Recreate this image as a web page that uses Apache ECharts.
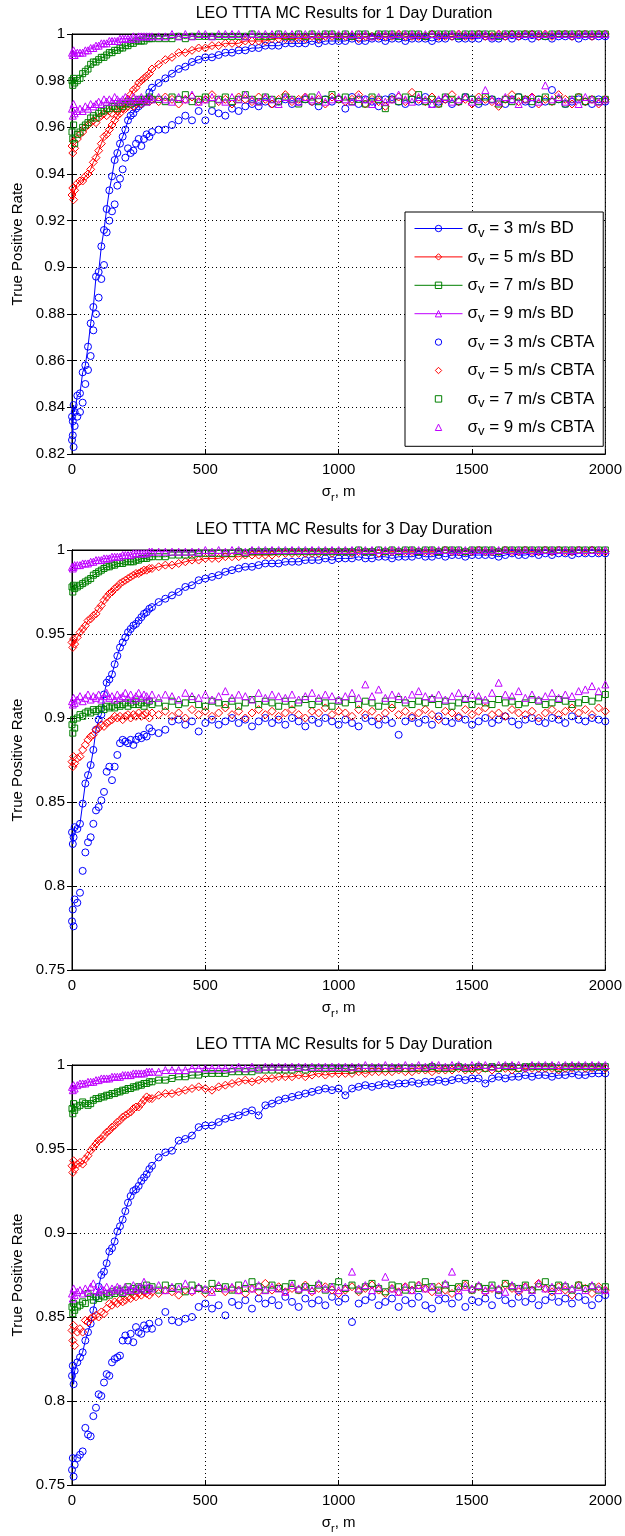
<!DOCTYPE html>
<html>
<head>
<meta charset="utf-8">
<title>LEO TTTA MC Results</title>
<script src="https://cdn.jsdelivr.net/npm/echarts@6/dist/echarts.min.js"></script>
<style>
  html, body { margin: 0; padding: 0; background: #fff; }
  #chart { width: 625px; height: 1536px; }
</style>
</head>
<body>
<div id="chart"></div>
<script>
// sigma_r sample points (m)
const xs = [0, 3, 6, 10, 20, 30, 40, 50, 60, 70, 80, 90, 100, 110, 120, 130, 140,
  150, 160, 170, 180, 190, 200, 210, 220, 230, 240, 250, 260, 270, 280, 290, 300,
  325, 350, 375, 400, 425, 450, 475, 500, 525, 550,
  575, 600, 625, 650, 675, 700, 725, 750, 775, 800,
  825, 850, 875, 900, 925, 950, 975, 1000,
  1025, 1050, 1075, 1100, 1125, 1150, 1175, 1200, 1225, 1250,
  1275, 1300, 1325, 1350, 1375, 1400, 1425, 1450, 1475, 1500,
  1525, 1550, 1575, 1600, 1625, 1650, 1675, 1700, 1725, 1750,
  1775, 1800, 1825, 1850, 1875, 1900, 1925, 1950, 1975, 2000];

const speeds = [3, 5, 7, 9];
const titles = ['LEO TTTA MC Results for 1 Day Duration',
  'LEO TTTA MC Results for 3 Day Duration',
  'LEO TTTA MC Results for 5 Day Duration'];
const yMins = [0.82, 0.75, 0.75];
const yIntervals = [0.02, 0.05, 0.05];

// ---- 1 day ----
const d1Bd3 = [0.836, 0.828, 0.841, 0.838, 0.845, 0.846, 0.855, 0.858, 0.866, 0.876, 0.883, 0.896, 0.898, 0.909, 0.916, 0.925, 0.933,
  0.939, 0.946, 0.949, 0.953, 0.956, 0.959, 0.963, 0.965, 0.966, 0.968, 0.969, 0.970, 0.971, 0.972, 0.975, 0.977,
  0.979, 0.981, 0.983, 0.985, 0.986, 0.988, 0.989, 0.990, 0.990, 0.991,
  0.992, 0.992, 0.993, 0.993, 0.994, 0.994, 0.995, 0.995, 0.995, 0.996,
  0.996, 0.996, 0.996, 0.997, 0.996, 0.997, 0.997, 0.997,
  0.997, 0.998, 0.997, 0.997, 0.998, 0.998, 0.997, 0.998, 0.998, 0.997,
  0.998, 0.998, 0.998, 0.997, 0.998, 0.998, 0.999, 0.998, 0.998, 0.998,
  0.998, 0.999, 0.998, 0.998, 0.999, 0.998, 0.999, 0.999, 0.998, 0.999,
  0.999, 0.998, 0.999, 0.999, 0.999, 0.998, 0.999, 0.999, 0.999, 0.999];
const d1Bd5 = [0.931, 0.934, 0.929, 0.933, 0.936, 0.937, 0.937, 0.939, 0.940, 0.942, 0.945, 0.947, 0.950, 0.953, 0.956, 0.957, 0.959,
  0.961, 0.963, 0.965, 0.966, 0.968, 0.970, 0.972, 0.974, 0.976, 0.977, 0.979, 0.980, 0.981, 0.982, 0.983, 0.985,
  0.987, 0.989, 0.990, 0.992, 0.992, 0.993, 0.994, 0.994, 0.995, 0.995,
  0.996, 0.996, 0.996, 0.997, 0.997, 0.997, 0.997, 0.998, 0.998, 0.998,
  0.998, 0.998, 0.998, 0.999, 0.998, 0.999, 0.999, 0.999,
  0.999, 0.999, 0.998, 0.999, 0.999, 0.999, 0.999, 0.999, 1, 0.999,
  0.999, 0.999, 0.999, 1, 0.999, 0.999, 0.999, 1, 0.999, 0.999,
  1, 0.999, 0.999, 1, 0.999, 1, 0.999, 1, 1, 0.999,
  1, 0.999, 1, 1, 0.999, 1, 1, 0.999, 1, 1];
const d1Bd7 = [0.980, 0.978, 0.981, 0.979, 0.980, 0.981, 0.983, 0.984, 0.985, 0.987, 0.988, 0.988, 0.989, 0.990, 0.990, 0.991, 0.992,
  0.992, 0.993, 0.993, 0.994, 0.994, 0.995, 0.995, 0.996, 0.996, 0.997, 0.997, 0.997, 0.997, 0.998, 0.998, 0.998,
  0.998, 0.998, 0.998, 0.999, 0.998, 0.999, 0.999, 0.999, 0.999, 0.999,
  0.999, 0.999, 0.999, 0.999, 1, 0.999, 0.999, 0.999, 1, 0.999,
  0.999, 1, 0.999, 1, 0.999, 1, 1, 0.999,
  1, 0.999, 1, 1, 0.999, 1, 1, 1, 0.999, 1,
  1, 1, 0.999, 1, 1, 1, 1, 0.999, 1, 1,
  1, 1, 1, 0.999, 1, 1, 1, 1, 1, 1,
  0.999, 1, 1, 1, 1, 1, 1, 1, 1, 1];
const d1Bd9 = [0.992, 0.991, 0.993, 0.991, 0.992, 0.992, 0.992, 0.993, 0.993, 0.994, 0.994, 0.995, 0.995, 0.996, 0.996, 0.996, 0.997,
  0.997, 0.997, 0.997, 0.998, 0.998, 0.998, 0.998, 0.998, 0.999, 0.998, 0.999, 0.999, 0.999, 0.999, 0.999, 0.999,
  0.999, 0.999, 1, 0.999, 1, 0.999, 1, 1, 0.999, 1,
  1, 1, 1, 0.999, 1, 1, 1, 1, 1, 1,
  1, 1, 1, 1, 1, 1, 1, 1,
  1, 1, 1, 1, 0.999, 1, 1, 1, 1, 1,
  1, 1, 1, 1, 1, 1, 1, 1, 1, 1,
  1, 1, 0.999, 1, 1, 1, 1, 1, 1, 1,
  1, 1, 1, 1, 1, 1, 1, 1, 1, 1];
const d1Cb3 = [0.826, 0.834, 0.823, 0.832, 0.836, 0.838, 0.842, 0.850, 0.856, 0.862, 0.873, 0.880, 0.887, 0.895, 0.901, 0.915, 0.920,
  0.924, 0.927, 0.935, 0.938, 0.942, 0.947, 0.951, 0.949, 0.950, 0.953, 0.955, 0.952, 0.955, 0.957, 0.956, 0.958,
  0.959, 0.959, 0.961, 0.963, 0.965, 0.963, 0.967, 0.963, 0.967, 0.966,
  0.965, 0.968, 0.967, 0.969, 0.970, 0.969, 0.971, 0.970, 0.971, 0.972,
  0.970, 0.971, 0.972, 0.971, 0.969, 0.972, 0.971, 0.972,
  0.968, 0.973, 0.970, 0.972, 0.971, 0.969, 0.972, 0.973, 0.971, 0.970,
  0.972, 0.971, 0.973, 0.970, 0.971, 0.972, 0.970, 0.971, 0.973, 0.972,
  0.970, 0.971, 0.972, 0.971, 0.970, 0.972, 0.973, 0.971, 0.970, 0.972,
  0.971, 0.976, 0.972, 0.970, 0.971, 0.972, 0.971, 0.970, 0.972, 0.971];
const d1Cb5 = [0.952, 0.949, 0.954, 0.951, 0.955, 0.957, 0.958, 0.960, 0.961, 0.962, 0.963, 0.962, 0.964, 0.965, 0.966, 0.965, 0.967,
  0.966, 0.968, 0.967, 0.969, 0.968, 0.968, 0.969, 0.970, 0.969, 0.970, 0.971, 0.970, 0.971, 0.972, 0.971, 0.972,
  0.971, 0.973, 0.972, 0.970, 0.972, 0.973, 0.971, 0.972, 0.974, 0.971,
  0.972, 0.970, 0.973, 0.972, 0.971, 0.973, 0.972, 0.970, 0.972, 0.974,
  0.971, 0.972, 0.973, 0.971, 0.972, 0.970, 0.973, 0.972,
  0.971, 0.972, 0.974, 0.970, 0.972, 0.971, 0.969, 0.972, 0.973, 0.971,
  0.975, 0.972, 0.971, 0.973, 0.970, 0.972, 0.974, 0.971, 0.972, 0.970,
  0.973, 0.972, 0.971, 0.969, 0.972, 0.974, 0.971, 0.972, 0.973, 0.970,
  0.972, 0.971, 0.974, 0.972, 0.970, 0.973, 0.971, 0.972, 0.970, 0.972];
const d1Cb7 = [0.958, 0.955, 0.961, 0.953, 0.957, 0.958, 0.960, 0.961, 0.962, 0.964, 0.965, 0.964, 0.966, 0.967, 0.967, 0.968, 0.968,
  0.969, 0.969, 0.968, 0.970, 0.969, 0.970, 0.971, 0.970, 0.971, 0.971, 0.972, 0.971, 0.972, 0.971, 0.973, 0.972,
  0.972, 0.971, 0.973, 0.972, 0.974, 0.971, 0.972, 0.973, 0.970, 0.972,
  0.973, 0.971, 0.972, 0.974, 0.972, 0.971, 0.973, 0.972, 0.971, 0.973,
  0.972, 0.970, 0.972, 0.973, 0.971, 0.972, 0.974, 0.972,
  0.973, 0.971, 0.972, 0.970, 0.973, 0.972, 0.968, 0.972, 0.971, 0.973,
  0.972, 0.974, 0.971, 0.972, 0.970, 0.973, 0.972, 0.971, 0.973, 0.972,
  0.971, 0.973, 0.972, 0.970, 0.972, 0.971, 0.973, 0.972, 0.971, 0.972,
  0.973, 0.971, 0.972, 0.970, 0.972, 0.973, 0.971, 0.972, 0.971, 0.972];
const d1Cb9 = [0.968, 0.965, 0.970, 0.966, 0.967, 0.968, 0.967, 0.969, 0.968, 0.970, 0.969, 0.970, 0.971, 0.970, 0.972, 0.971, 0.972,
  0.971, 0.973, 0.972, 0.971, 0.972, 0.973, 0.972, 0.971, 0.973, 0.972, 0.972, 0.973, 0.972, 0.971, 0.973, 0.972,
  0.973, 0.972, 0.971, 0.973, 0.972, 0.974, 0.971, 0.972, 0.973, 0.972,
  0.971, 0.973, 0.972, 0.974, 0.972, 0.971, 0.973, 0.972, 0.970, 0.973,
  0.972, 0.971, 0.973, 0.972, 0.974, 0.971, 0.972, 0.973,
  0.972, 0.971, 0.973, 0.972, 0.970, 0.973, 0.971, 0.972, 0.974, 0.972,
  0.971, 0.973, 0.972, 0.970, 0.972, 0.973, 0.971, 0.972, 0.973, 0.971,
  0.972, 0.976, 0.972, 0.971, 0.973, 0.972, 0.970, 0.972, 0.973, 0.971,
  0.978, 0.972, 0.973, 0.971, 0.972, 0.970, 0.973, 0.972, 0.971, 0.972];

// ---- 3 day ----
const d3Bd3 = [0.832, 0.825, 0.829, 0.835, 0.834, 0.837, 0.849, 0.861, 0.866, 0.872, 0.881, 0.893, 0.899, 0.902, 0.914, 0.921, 0.923,
  0.926, 0.932, 0.937, 0.942, 0.945, 0.948, 0.951, 0.953, 0.955, 0.956, 0.958, 0.960, 0.962, 0.963, 0.965, 0.966,
  0.969, 0.971, 0.973, 0.975, 0.978, 0.979, 0.982, 0.983, 0.984, 0.985,
  0.987, 0.988, 0.989, 0.990, 0.990, 0.991, 0.992, 0.992, 0.992, 0.993,
  0.993, 0.993, 0.994, 0.994, 0.994, 0.995, 0.994, 0.995,
  0.995, 0.995, 0.996, 0.995, 0.995, 0.996, 0.996, 0.995, 0.996, 0.996,
  0.996, 0.997, 0.996, 0.996, 0.997, 0.996, 0.997, 0.997, 0.996, 0.997,
  0.997, 0.997, 0.997, 0.996, 0.997, 0.998, 0.997, 0.997, 0.998, 0.997,
  0.998, 0.997, 0.998, 0.998, 0.997, 0.998, 0.998, 0.998, 0.998, 0.998];
const d3Bd5 = [0.945, 0.942, 0.947, 0.944, 0.948, 0.951, 0.953, 0.955, 0.958, 0.959, 0.961, 0.962, 0.965, 0.967, 0.970, 0.972, 0.974,
  0.975, 0.977, 0.978, 0.980, 0.981, 0.982, 0.983, 0.984, 0.985, 0.986, 0.986, 0.987, 0.988, 0.988, 0.989, 0.989,
  0.990, 0.991, 0.991, 0.992, 0.993, 0.994, 0.994, 0.995, 0.995, 0.995,
  0.996, 0.996, 0.996, 0.997, 0.997, 0.997, 0.997, 0.997, 0.998, 0.998,
  0.998, 0.998, 0.998, 0.998, 0.998, 0.999, 0.998, 0.999,
  0.999, 0.998, 0.999, 0.999, 0.999, 0.998, 0.999, 0.999, 0.999, 0.999,
  0.999, 0.999, 0.999, 0.999, 0.999, 1, 0.999, 0.999, 0.999, 0.999,
  1, 0.999, 0.999, 0.999, 1, 0.999, 0.999, 1, 0.999, 0.999,
  1, 0.999, 1, 0.999, 0.999, 1, 0.999, 1, 0.999, 0.999];
const d3Bd7 = [0.978, 0.975, 0.979, 0.977, 0.978, 0.979, 0.980, 0.981, 0.982, 0.983, 0.985, 0.986, 0.987, 0.988, 0.989, 0.990, 0.990,
  0.991, 0.991, 0.992, 0.992, 0.992, 0.993, 0.993, 0.993, 0.993, 0.994, 0.994, 0.995, 0.995, 0.995, 0.996, 0.996,
  0.996, 0.996, 0.997, 0.997, 0.997, 0.997, 0.998, 0.998, 0.998, 0.998,
  0.998, 0.998, 0.999, 0.998, 0.999, 0.999, 0.999, 0.999, 0.999, 0.999,
  0.999, 0.999, 0.999, 0.999, 0.999, 0.999, 0.999, 0.999,
  0.999, 0.999, 1, 0.999, 0.999, 1, 0.999, 1, 0.999, 1,
  1, 0.999, 1, 1, 0.999, 1, 1, 1, 0.999, 1,
  1, 1, 1, 0.999, 1, 1, 1, 1, 1, 1,
  1, 1, 1, 1, 1, 1, 1, 1, 1, 1];
const d3Bd9 = [0.990, 0.989, 0.990, 0.991, 0.991, 0.991, 0.992, 0.992, 0.992, 0.993, 0.993, 0.994, 0.994, 0.994, 0.995, 0.995, 0.995,
  0.996, 0.996, 0.996, 0.996, 0.997, 0.997, 0.997, 0.997, 0.998, 0.998, 0.998, 0.998, 0.998, 0.998, 0.999, 0.999,
  0.999, 0.999, 0.999, 0.999, 0.999, 0.999, 0.999, 1, 0.999, 1,
  0.999, 1, 1, 0.999, 1, 1, 1, 1, 1, 1,
  1, 1, 1, 1, 1, 1, 1, 1,
  1, 1, 1, 1, 1, 1, 1, 1, 1, 1,
  1, 1, 1, 1, 1, 1, 1, 1, 1, 1,
  1, 1, 1, 1, 1, 1, 1, 1, 1, 1,
  1, 1, 1, 1, 1, 1, 1, 1, 1, 1];
const d3Cb3 = [0.779, 0.786, 0.776, 0.792, 0.790, 0.796, 0.809, 0.820, 0.826, 0.829, 0.837, 0.845, 0.847, 0.851, 0.856, 0.868, 0.871,
  0.863, 0.871, 0.878, 0.885, 0.887, 0.886, 0.885, 0.887, 0.884, 0.887, 0.889, 0.888, 0.890, 0.889, 0.894, 0.892,
  0.891, 0.893, 0.898, 0.899, 0.896, 0.898, 0.892, 0.897, 0.899, 0.896,
  0.898, 0.900, 0.897, 0.899, 0.895, 0.898, 0.900, 0.897, 0.899, 0.896,
  0.900, 0.898, 0.895, 0.899, 0.897, 0.900, 0.898, 0.896,
  0.899, 0.897, 0.895, 0.900, 0.898, 0.896, 0.899, 0.897, 0.890, 0.898,
  0.900, 0.897, 0.899, 0.896, 0.901, 0.898, 0.897, 0.900, 0.899, 0.896,
  0.898, 0.900, 0.897, 0.899, 0.901, 0.898, 0.896, 0.899, 0.900, 0.898,
  0.897, 0.900, 0.899, 0.897, 0.901, 0.899, 0.898, 0.900, 0.899, 0.898];
const d3Cb5 = [0.874, 0.871, 0.877, 0.873, 0.876, 0.877, 0.881, 0.884, 0.887, 0.889, 0.890, 0.893, 0.894, 0.896, 0.895, 0.897, 0.898,
  0.899, 0.901, 0.900, 0.901, 0.899, 0.901, 0.902, 0.900, 0.902, 0.901, 0.903, 0.901, 0.902, 0.903, 0.900, 0.903,
  0.902, 0.904, 0.901, 0.903, 0.900, 0.905, 0.902, 0.904, 0.901, 0.903,
  0.906, 0.902, 0.904, 0.900, 0.903, 0.905, 0.902, 0.904, 0.901, 0.903,
  0.905, 0.902, 0.900, 0.904, 0.903, 0.906, 0.902, 0.904,
  0.903, 0.901, 0.905, 0.902, 0.904, 0.900, 0.903, 0.906, 0.902, 0.904,
  0.901, 0.903, 0.905, 0.902, 0.899, 0.904, 0.903, 0.901, 0.905, 0.902,
  0.904, 0.906, 0.902, 0.903, 0.901, 0.905, 0.903, 0.902, 0.904, 0.900,
  0.903, 0.905, 0.902, 0.904, 0.906, 0.903, 0.905, 0.902, 0.906, 0.904];
const d3Cb7 = [0.896, 0.891, 0.899, 0.894, 0.900, 0.902, 0.901, 0.903, 0.904, 0.903, 0.905, 0.904, 0.905, 0.906, 0.905, 0.907, 0.906,
  0.907, 0.906, 0.908, 0.907, 0.908, 0.909, 0.907, 0.909, 0.908, 0.910, 0.908, 0.909, 0.907, 0.909, 0.910, 0.908,
  0.909, 0.907, 0.910, 0.908, 0.909, 0.911, 0.908, 0.907, 0.910, 0.909,
  0.908, 0.910, 0.907, 0.909, 0.911, 0.908, 0.910, 0.909, 0.907, 0.910,
  0.908, 0.909, 0.911, 0.908, 0.910, 0.909, 0.907, 0.910,
  0.909, 0.911, 0.908, 0.910, 0.909, 0.907, 0.910, 0.908, 0.911, 0.909,
  0.908, 0.910, 0.909, 0.911, 0.908, 0.910, 0.907, 0.909, 0.911, 0.908,
  0.910, 0.909, 0.908, 0.911, 0.909, 0.910, 0.908, 0.909, 0.911, 0.910,
  0.908, 0.909, 0.911, 0.910, 0.908, 0.909, 0.911, 0.910, 0.912, 0.914];
const d3Cb9 = [0.910, 0.908, 0.912, 0.909, 0.911, 0.913, 0.910, 0.912, 0.914, 0.911, 0.913, 0.912, 0.914, 0.911, 0.913, 0.915, 0.912,
  0.913, 0.911, 0.914, 0.912, 0.913, 0.915, 0.912, 0.914, 0.911, 0.913, 0.915, 0.912, 0.914, 0.913, 0.911, 0.914,
  0.912, 0.914, 0.913, 0.911, 0.915, 0.913, 0.912, 0.914, 0.911, 0.913,
  0.916, 0.912, 0.914, 0.913, 0.911, 0.915, 0.912, 0.914, 0.913, 0.912,
  0.914, 0.911, 0.913, 0.915, 0.912, 0.914, 0.913, 0.911,
  0.913, 0.915, 0.912, 0.920, 0.913, 0.917, 0.912, 0.914, 0.913, 0.911,
  0.914, 0.916, 0.913, 0.912, 0.914, 0.911, 0.913, 0.915, 0.912, 0.914,
  0.913, 0.911, 0.915, 0.921, 0.914, 0.913, 0.916, 0.912, 0.914, 0.911,
  0.913, 0.915, 0.912, 0.914, 0.913, 0.916, 0.917, 0.919, 0.916, 0.920];

// ---- 5 day ----
const d5Bd3 = [0.815, 0.821, 0.810, 0.818, 0.823, 0.826, 0.829, 0.836, 0.841, 0.846, 0.854, 0.862, 0.868, 0.875, 0.877, 0.882, 0.889,
  0.891, 0.895, 0.901, 0.904, 0.908, 0.913, 0.918, 0.922, 0.925, 0.926, 0.928, 0.931, 0.933, 0.935, 0.938, 0.940,
  0.945, 0.948, 0.949, 0.955, 0.956, 0.958, 0.963, 0.964, 0.964, 0.966,
  0.968, 0.969, 0.970, 0.972, 0.973, 0.970, 0.976, 0.977, 0.979, 0.980,
  0.981, 0.982, 0.983, 0.984, 0.985, 0.986, 0.985, 0.986,
  0.982, 0.986, 0.987, 0.988, 0.987, 0.988, 0.989, 0.988, 0.989, 0.989,
  0.990, 0.989, 0.990, 0.990, 0.991, 0.990, 0.991, 0.992, 0.991, 0.992,
  0.992, 0.989, 0.992, 0.993, 0.992, 0.993, 0.993, 0.994, 0.993, 0.994,
  0.994, 0.993, 0.994, 0.994, 0.995, 0.994, 0.994, 0.995, 0.995, 0.995];
const d5Bd5 = [0.940, 0.936, 0.943, 0.938, 0.941, 0.942, 0.941, 0.944, 0.946, 0.949, 0.951, 0.953, 0.955, 0.956, 0.958, 0.960, 0.961,
  0.963, 0.964, 0.966, 0.967, 0.969, 0.970, 0.971, 0.972, 0.974, 0.975, 0.975, 0.977, 0.979, 0.981, 0.980, 0.980,
  0.982, 0.983, 0.983, 0.984, 0.985, 0.986, 0.987, 0.986, 0.985, 0.987,
  0.988, 0.989, 0.990, 0.991, 0.990, 0.991, 0.992, 0.992, 0.993, 0.993,
  0.993, 0.994, 0.993, 0.994, 0.995, 0.994, 0.995, 0.995,
  0.995, 0.995, 0.996, 0.995, 0.996, 0.996, 0.996, 0.996, 0.997, 0.996,
  0.996, 0.997, 0.997, 0.996, 0.997, 0.997, 0.997, 0.998, 0.997, 0.997,
  0.997, 0.998, 0.997, 0.998, 0.998, 0.997, 0.998, 0.998, 0.998, 0.998,
  0.998, 0.998, 0.997, 0.998, 0.998, 0.999, 0.998, 0.998, 0.999, 0.998];
const d5Bd7 = [0.974, 0.971, 0.977, 0.973, 0.975, 0.976, 0.978, 0.977, 0.976, 0.977, 0.979, 0.980, 0.980, 0.981, 0.981, 0.982, 0.982,
  0.983, 0.983, 0.984, 0.984, 0.985, 0.985, 0.986, 0.986, 0.987, 0.987, 0.988, 0.988, 0.989, 0.989, 0.990, 0.990,
  0.991, 0.991, 0.992, 0.993, 0.993, 0.994, 0.994, 0.995, 0.995, 0.995,
  0.995, 0.996, 0.996, 0.996, 0.996, 0.997, 0.997, 0.997, 0.997, 0.997,
  0.997, 0.998, 0.997, 0.998, 0.998, 0.998, 0.998, 0.998,
  0.998, 0.997, 0.998, 0.998, 0.998, 0.998, 0.998, 0.998, 0.998, 0.998,
  0.998, 0.998, 0.998, 0.999, 0.998, 0.998, 0.998, 0.999, 0.998, 0.998,
  0.999, 0.998, 0.999, 0.998, 0.999, 0.999, 0.998, 0.999, 0.999, 0.999,
  0.999, 0.999, 0.998, 0.999, 0.999, 0.999, 0.999, 0.999, 0.999, 0.999];
const d5Bd9 = [0.987, 0.985, 0.988, 0.986, 0.988, 0.989, 0.989, 0.989, 0.990, 0.990, 0.990, 0.991, 0.991, 0.992, 0.992, 0.992, 0.992,
  0.993, 0.993, 0.993, 0.993, 0.994, 0.994, 0.994, 0.994, 0.995, 0.995, 0.995, 0.995, 0.995, 0.996, 0.996, 0.996,
  0.996, 0.997, 0.997, 0.997, 0.997, 0.998, 0.998, 0.998, 0.998, 0.998,
  0.998, 0.998, 0.999, 0.998, 0.999, 0.998, 0.999, 0.999, 0.999, 0.999,
  0.999, 0.999, 0.999, 0.999, 0.999, 0.999, 0.999, 0.999,
  0.999, 0.999, 0.999, 1, 0.999, 0.999, 1, 0.999, 0.999, 1,
  0.999, 1, 0.999, 1, 1, 0.999, 1, 1, 0.999, 1,
  1, 1, 0.999, 1, 1, 1, 1, 0.999, 1, 1,
  1, 1, 1, 1, 1, 1, 1, 1, 1, 1];
const d5Cb3 = [0.759, 0.766, 0.755, 0.762, 0.766, 0.768, 0.770, 0.784, 0.780, 0.779, 0.791, 0.796, 0.804, 0.803, 0.811, 0.816, 0.815,
  0.823, 0.825, 0.826, 0.827, 0.836, 0.839, 0.836, 0.840, 0.835, 0.844, 0.841, 0.840, 0.845, 0.843, 0.846, 0.843,
  0.847, 0.853, 0.848, 0.847, 0.849, 0.850, 0.856, 0.858, 0.855, 0.857,
  0.851, 0.859, 0.857, 0.860, 0.855, 0.861, 0.858, 0.860, 0.857, 0.862,
  0.859, 0.856, 0.861, 0.858, 0.860, 0.857, 0.862, 0.859,
  0.861, 0.847, 0.858, 0.860, 0.862, 0.857, 0.859, 0.861, 0.856, 0.860,
  0.858, 0.862, 0.857, 0.855, 0.860, 0.861, 0.858, 0.862, 0.856, 0.860,
  0.859, 0.861, 0.857, 0.863, 0.860, 0.858, 0.862, 0.859, 0.861, 0.857,
  0.860, 0.862, 0.859, 0.861, 0.858, 0.862, 0.860, 0.857, 0.861, 0.863];
const d5Cb5 = [0.842, 0.836, 0.845, 0.833, 0.841, 0.843, 0.841, 0.848, 0.847, 0.849, 0.850, 0.851, 0.850, 0.853, 0.852, 0.855, 0.858,
  0.857, 0.859, 0.858, 0.860, 0.859, 0.860, 0.862, 0.861, 0.863, 0.862, 0.864, 0.863, 0.865, 0.864, 0.863, 0.865,
  0.864, 0.866, 0.865, 0.863, 0.866, 0.865, 0.867, 0.864, 0.866, 0.868,
  0.865, 0.867, 0.866, 0.864, 0.867, 0.865, 0.870, 0.866, 0.868, 0.865,
  0.867, 0.866, 0.869, 0.865, 0.867, 0.868, 0.866, 0.864,
  0.866, 0.868, 0.865, 0.867, 0.869, 0.866, 0.864, 0.867, 0.865, 0.868,
  0.866, 0.869, 0.867, 0.865, 0.868, 0.866, 0.864, 0.867, 0.869, 0.866,
  0.868, 0.865, 0.867, 0.866, 0.869, 0.867, 0.865, 0.868, 0.866, 0.870,
  0.867, 0.865, 0.868, 0.866, 0.863, 0.869, 0.867, 0.864, 0.868, 0.866];
const d5Cb7 = [0.856, 0.852, 0.858, 0.854, 0.856, 0.857, 0.859, 0.858, 0.864, 0.862, 0.860, 0.862, 0.861, 0.863, 0.862, 0.864, 0.863,
  0.865, 0.864, 0.866, 0.865, 0.864, 0.866, 0.868, 0.865, 0.867, 0.866, 0.868, 0.867, 0.866, 0.869, 0.867, 0.868,
  0.866, 0.869, 0.867, 0.868, 0.865, 0.869, 0.867, 0.866, 0.870, 0.867,
  0.868, 0.866, 0.869, 0.867, 0.871, 0.868, 0.866, 0.869, 0.867, 0.868,
  0.870, 0.866, 0.868, 0.867, 0.869, 0.866, 0.868, 0.871,
  0.867, 0.869, 0.866, 0.868, 0.870, 0.867, 0.865, 0.869, 0.868, 0.866,
  0.869, 0.867, 0.871, 0.868, 0.866, 0.869, 0.867, 0.868, 0.870, 0.866,
  0.868, 0.867, 0.869, 0.866, 0.870, 0.868, 0.867, 0.869, 0.866, 0.868,
  0.871, 0.867, 0.869, 0.868, 0.866, 0.869, 0.867, 0.868, 0.866, 0.868];
const d5Cb9 = [0.864, 0.861, 0.867, 0.863, 0.865, 0.866, 0.864, 0.867, 0.865, 0.868, 0.870, 0.866, 0.865, 0.867, 0.866, 0.868, 0.865,
  0.867, 0.866, 0.868, 0.867, 0.865, 0.868, 0.866, 0.867, 0.869, 0.866, 0.868, 0.867, 0.871, 0.866, 0.868, 0.867,
  0.869, 0.866, 0.868, 0.867, 0.870, 0.866, 0.868, 0.867, 0.865, 0.869,
  0.867, 0.868, 0.866, 0.870, 0.867, 0.869, 0.866, 0.868, 0.867, 0.865,
  0.869, 0.867, 0.868, 0.866, 0.870, 0.867, 0.868, 0.866,
  0.868, 0.877, 0.867, 0.869, 0.866, 0.868, 0.874, 0.867, 0.865, 0.868,
  0.866, 0.869, 0.867, 0.868, 0.865, 0.870, 0.877, 0.866, 0.868, 0.867,
  0.869, 0.866, 0.868, 0.867, 0.865, 0.869, 0.867, 0.868, 0.866, 0.870,
  0.867, 0.868, 0.866, 0.869, 0.867, 0.868, 0.866, 0.869, 0.867, 0.866];

const bdSets = [[d1Bd3, d1Bd5, d1Bd7, d1Bd9], [d3Bd3, d3Bd5, d3Bd7, d3Bd9], [d5Bd3, d5Bd5, d5Bd7, d5Bd9]];
const cbSets = [[d1Cb3, d1Cb5, d1Cb7, d1Cb9], [d3Cb3, d3Cb5, d3Cb7, d3Cb9], [d5Cb3, d5Cb5, d5Cb7, d5Cb9]];

const font = '"Liberation Sans", Arial, sans-serif';
const colors = ['#0000ff', '#ff0000', '#008000', '#bf00ff'];
const symbols = ['circle', 'diamond', 'rect', 'triangle'];
const symbolSizes = [7, 8, 6, 7];
const gridTops = [34, 550, 1065];
const plotLeft = 72, plotWidth = 534, plotHeight = 420;

const subRich = (size) => ({
  a: { fontSize: size, lineHeight: 22, color: '#000', fontFamily: font },
  b: { fontSize: size - 4, verticalAlign: 'bottom', color: '#000', fontFamily: font }
});

const grid = [], xAxis = [], yAxis = [], title = [], series = [];

gridTops.forEach((top, g) => {
  grid.push({ left: plotLeft, top: top, width: plotWidth, height: plotHeight,
    show: true, borderColor: '#000', borderWidth: 1 });
  title.push({ text: titles[g], left: plotLeft + plotWidth / 2, top: top - 33, textAlign: 'center',
    textStyle: { fontSize: 16, fontWeight: 'normal', color: '#000', fontFamily: font } });

  xAxis.push({
    gridIndex: g, type: 'value', min: 0, max: 2000, interval: 500,
    axisLine: { show: true, lineStyle: { color: '#000' } },
    axisTick: { inside: true, length: 5, lineStyle: { color: '#000' } },
    axisLabel: { color: '#000', fontSize: 15, fontFamily: font, margin: 8,
      formatter: v => String(v) },
    splitLine: { show: true, lineStyle: { color: '#000', type: [1, 3], width: 1 } },
    name: '{a|σ}{b|r}{a|, m}', nameLocation: 'middle', nameGap: 27,
    nameTextStyle: { rich: subRich(15) }
  });
  xAxis.push({
    gridIndex: g, type: 'value', position: 'top', min: 0, max: 2000, interval: 500,
    axisLine: { show: true, lineStyle: { color: '#000' } },
    axisTick: { inside: true, length: 5, lineStyle: { color: '#000' } },
    axisLabel: { show: false }, splitLine: { show: false }
  });
  yAxis.push({
    gridIndex: g, type: 'value', min: yMins[g], max: 1, interval: yIntervals[g],
    axisLine: { show: true, lineStyle: { color: '#000' } },
    axisTick: { inside: true, length: 5, lineStyle: { color: '#000' } },
    axisLabel: { color: '#000', fontSize: 15, fontFamily: font, margin: 7 },
    splitLine: { show: true, lineStyle: { color: '#000', type: [1, 3], width: 1 } },
    name: 'True Positive Rate', nameLocation: 'middle', nameGap: 46, nameRotate: 90,
    nameTextStyle: { color: '#000', fontSize: 15, fontFamily: font }
  });
  yAxis.push({
    gridIndex: g, type: 'value', position: 'right', min: yMins[g], max: 1, interval: yIntervals[g],
    axisLine: { show: true, lineStyle: { color: '#000' } },
    axisTick: { inside: true, length: 5, lineStyle: { color: '#000' } },
    axisLabel: { show: false }, splitLine: { show: false }
  });

  const addSeries = (vals, k, isBd) => {
    series.push({
      type: 'line',
      name: speeds[k] + ' m/s ' + (isBd ? 'BD' : 'CBTA'),
      xAxisIndex: 2 * g, yAxisIndex: 2 * g,
      data: xs.map((x, i) => [x, vals[i]]),
      symbol: symbols[k], symbolSize: symbolSizes[k], showSymbol: true,
      lineStyle: isBd ? { color: colors[k], width: 1 } : { color: colors[k], width: 0, opacity: 0 },
      itemStyle: { color: 'rgba(0,0,0,0)', borderColor: colors[k], borderWidth: 1 },
      emphasis: { disabled: true }, silent: true
    });
  };
  bdSets[g].forEach((vals, k) => addSeries(vals, k, true));
  cbSets[g].forEach((vals, k) => addSeries(vals, k, false));
});

const legendNames = speeds.map(s => s + ' m/s BD').concat(speeds.map(s => s + ' m/s CBTA'));

const chart = echarts.init(document.getElementById('chart'), null, { renderer: 'canvas' });
chart.setOption({
  animation: false,
  backgroundColor: '#fff',
  title: title,
  grid: grid,
  xAxis: xAxis,
  yAxis: yAxis,
  legend: {
    data: legendNames,
    orient: 'vertical', left: 405, top: 212,
    padding: [8, 9, 8, 9],
    itemWidth: 48, itemHeight: 8, itemGap: 8.9,
    backgroundColor: '#fff', borderColor: '#000', borderWidth: 1,
    itemStyle: { borderWidth: 1 },
    lineStyle: { width: 1 },
    formatter: n => '{a|σ}{b|v}{a| = ' + n + '}',
    textStyle: { rich: subRich(17) },
    selectedMode: false
  },
  series: series
});
</script>
</body>
</html>
